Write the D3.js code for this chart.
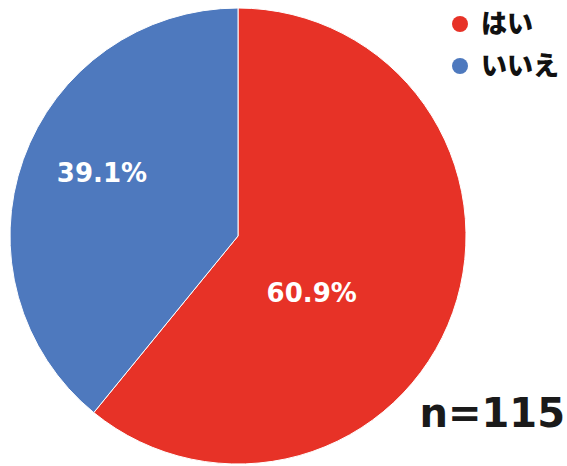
<!DOCTYPE html>
<html>
<head>
<meta charset="utf-8">
<script src="https://cdn.jsdelivr.net/npm/d3@7"></script>
<style>
  html, body { margin: 0; padding: 0; background: #fff; }
  svg { display: block; }
</style>
</head>
<body>
<svg id="chart" width="567" height="466"></svg>
<script>
// Survey answers
const categories = ["はい", "いいえ"];
const values = [60.9, 39.1];
const colors = ["#E73227", "#4E79BE"];
const sampleSize = 115;

const width = 567, height = 466;
const cx = 238, cy = 236, radius = 228;

const svg = d3.select("#chart");

const pie = d3.pie().sort(null).value(d => d.value);
const arcs = pie(categories.map((c, i) => ({ name: c, value: values[i], color: colors[i] })));
const arc = d3.arc().innerRadius(0).outerRadius(radius);

const g = svg.append("g").attr("transform", `translate(${cx},${cy})`);

g.selectAll("path.slice")
  .data(arcs)
  .join("path")
  .attr("class", "slice")
  .attr("d", arc)
  .attr("fill", d => d.data.color)
  .attr("stroke", "#fff")
  .attr("stroke-width", 1);

// Percentage labels: polar placement (radius, angle in degrees clockwise from 12 o'clock)
const labelPlacement = [
  { r: 93, angle: 127.6 },
  { r: 150, angle: 294.9 }
];

g.selectAll("text.pct")
  .data(arcs)
  .join("text")
  .attr("class", "pct")
  .attr("x", (d, i) => labelPlacement[i].r * Math.sin(labelPlacement[i].angle * Math.PI / 180))
  .attr("y", (d, i) => -labelPlacement[i].r * Math.cos(labelPlacement[i].angle * Math.PI / 180))
  .attr("dy", "0.35em")
  .attr("text-anchor", "middle")
  .attr("fill", "#fff")
  .attr("font-family", "'DejaVu Sans', Verdana, sans-serif")
  .attr("font-weight", "bold")
  .attr("font-size", 26)
  .text(d => d.data.value.toFixed(1) + "%");

// Legend
const legend = svg.append("g").attr("transform", "translate(460,24)");
const items = legend.selectAll("g.item")
  .data(arcs)
  .join("g")
  .attr("class", "item")
  .attr("transform", (d, i) => `translate(0,${i * 42})`);

items.append("circle")
  .attr("r", 8)
  .attr("fill", d => d.data.color);

items.append("text")
  .attr("x", 21)
  .attr("dy", "0.36em")
  .attr("font-family", "'Noto Sans CJK JP', sans-serif")
  .attr("font-weight", 900)
  .attr("font-size", 26)
  .attr("fill", "#111")
  .text(d => d.data.name);

// Sample size
svg.append("text")
  .attr("x", 565)
  .attr("y", 427)
  .attr("text-anchor", "end")
  .attr("font-family", "'DejaVu Sans', Verdana, sans-serif")
  .attr("font-weight", "bold")
  .attr("font-size", 40)
  .attr("fill", "#1a1a1a")
  .text("n=" + sampleSize);
</script>
</body>
</html>
